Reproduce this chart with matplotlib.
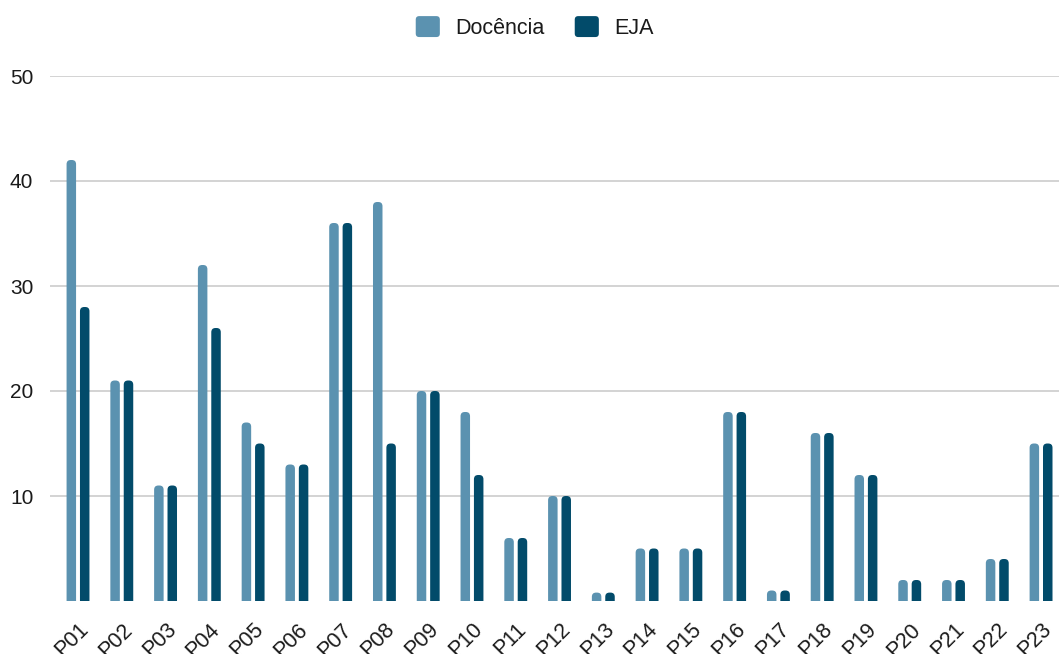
import matplotlib
matplotlib.use("Agg")
import matplotlib.pyplot as plt
from matplotlib.patches import FancyBboxPatch, Patch
from matplotlib.legend_handler import HandlerPatch
import numpy as np

categories = ["P01", "P02", "P03", "P04", "P05", "P06", "P07", "P08", "P09", "P10",
              "P11", "P12", "P13", "P14", "P15", "P16", "P17", "P18", "P19", "P20",
              "P21", "P22", "P23"]
docencia = [42, 21, 11, 32, 17, 13, 36, 38, 20, 18, 6, 10, 0.8, 5, 5, 18, 1, 16, 12, 2, 2, 4, 15]
eja = [28, 21, 11, 26, 15, 13, 36, 15, 20, 12, 6, 10, 0.8, 5, 5, 18, 1, 16, 12, 2, 2, 4, 15]
series_names = ["Docência", "EJA"]
yticks = [10, 20, 30, 40, 50]

colors = ["#5B92B0", "#024B6A"]

plt.rcParams["font.family"] = ["Liberation Sans", "DejaVu Sans"]

W, H = 1059, 654
fig = plt.figure(figsize=(W / 100, H / 100), dpi=100)
ax = fig.add_axes([50 / W, 53 / H, 1 - 50 / W, (601 - 76) / H])

x = np.arange(len(categories))
bw = 0.217
off = 0.153
ax.set_xlim(-0.64, len(categories) - 1 + 0.41)
ax.set_ylim(0, 50)

# pixel scale of data units, for rounding the bar tops evenly
ax_w_px = ax.get_position().width * W
ax_h_px = ax.get_position().height * H
xr = ax.get_xlim()[1] - ax.get_xlim()[0]
yr = ax.get_ylim()[1] - ax.get_ylim()[0]
aspect = (yr / ax_h_px) / (xr / ax_w_px)
r = 4.2 * xr / ax_w_px          # corner radius in x data units
pad_below = r * aspect          # push the lower rounded corners below the axis

for vals, col, dx in [(docencia, colors[0], -off), (eja, colors[1], off)]:
    bars = ax.bar(x + dx, vals, width=bw, color=col, linewidth=0)
    for b in bars:
        bx, bwid, bh = b.get_x(), b.get_width(), b.get_height()
        b.remove()
        ax.add_patch(FancyBboxPatch((bx, -pad_below), bwid, bh + pad_below,
                                    boxstyle=f"round,pad=0,rounding_size={r}",
                                    mutation_aspect=aspect, facecolor=col,
                                    edgecolor="none", zorder=3))

ax.set_yticks(yticks)
ax.set_yticklabels([str(t) for t in yticks], fontsize=15, color="#1A1A1A")
ax.yaxis.grid(True, color="#CCCCCC", linewidth=1.2)
ax.set_axisbelow(True)
ax.tick_params(axis="y", length=0, pad=12)

ax.set_xticks(x)
ax.set_xticklabels(categories, rotation=45, ha="right", rotation_mode="anchor",
                   fontsize=15.5, color="#1A1A1A")
ax.tick_params(axis="x", length=0, pad=13)

for s in ax.spines.values():
    s.set_visible(False)


def rounded_square(legend, orig_handle, xdescent, ydescent, width, height, fontsize):
    return FancyBboxPatch((-xdescent, -ydescent), width, height,
                          boxstyle="round,pad=0,rounding_size=2.5")


handles = [Patch(facecolor=c, edgecolor="none") for c in colors]
fig.legend(handles, series_names, loc="upper center", bbox_to_anchor=(0.505, 1.005),
           ncol=2, frameon=False, fontsize=15.5, handlelength=1.12, handleheight=1.12,
           handletextpad=0.72, columnspacing=1.4, labelcolor="#1A1A1A",
           handler_map={Patch: HandlerPatch(patch_func=rounded_square)})

fig.savefig("out.png", dpi=100)
